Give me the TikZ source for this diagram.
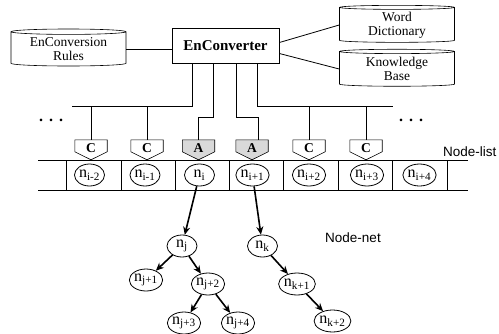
\documentclass[tikz,border=0pt]{standalone}
\usepackage{fontspec}
\setmainfont{Liberation Serif}
\setsansfont{Liberation Sans}
\usepackage{tikz}
\usetikzlibrary{calc,shapes.geometric,arrows.meta,backgrounds}
\definecolor{shade}{HTML}{D9D9D9}
\tikzset{
  conv/.style={draw, line width=0.8pt, minimum width=107pt, minimum height=35pt, inner sep=0pt, font=\fontsize{15}{15}\selectfont\bfseries},
  dbase/.style={draw, line width=0.6pt, cylinder, shape border rotate=90, aspect=0.07, minimum width=115pt, minimum height=37pt, align=center, inner sep=0pt, font=\fontsize{13.5}{14}\selectfont},
  tag/.style={minimum width=32pt, minimum height=16pt, inner sep=0pt, font=\fontsize{13.5}{14}\selectfont\bfseries},
  tagline/.style={draw, line width=0.6pt, line join=miter},
  nd/.style={draw, ellipse, line width=0.8pt, minimum width=30pt, minimum height=22pt, inner sep=0pt, font=\fontsize{16}{16}\selectfont},
  lbl/.style={font=\sffamily\fontsize{13.5}{14}\selectfont},
  dots/.style={font=\fontsize{16}{16}\selectfont\bfseries, inner sep=0pt},
  wire/.style={line width=0.8pt},
  arr/.style={line width=1.6pt, -{Stealth[length=8pt,width=7pt]}}
}
\newcommand{\nn}[1]{n\textsubscript{#1}}

\begin{document}
\begin{tikzpicture}[x=1pt,y=-1pt]
\useasboundingbox (0,0) rectangle (499,333);

% converter and its data
\node[conv] (enc) at (225.5,45.5) {EnConverter};
\node[dbase] (rules) at (68.5,49) {EnConversion\\Rules};
\node[dbase] (dict) at (397,25) {Word\\Dictionary};
\node[dbase] (kb) at (397,69) {Knowledge\\Base};

\draw[wire] (rules.east) -- (enc.west |- rules.east);
\draw[wire] ($(enc.east)+(0,-3)$) -- (dict.west);
\draw[wire] ($(enc.east)+(0,8)$) -- (kb.west);

% heads over the list
\node[tag] (c1) at (91,148) {C};
\node[tag] (c2) at (147,148) {C};
\node[tag] (a1) at (198.5,148) {A};
\node[tag] (a2) at (252,148) {A};
\node[tag] (c3) at (309,148) {C};
\node[tag] (c4) at (366,148) {C};

\begin{scope}[on background layer]
\draw[tagline] (c1.north west) -- (c1.north east) -- ++(0,12) -- ($(c1.north)+(0,20)$) -- ($(c1.north west)+(0,12)$) -- cycle;
\draw[tagline] (c2.north west) -- (c2.north east) -- ++(0,12) -- ($(c2.north)+(0,20)$) -- ($(c2.north west)+(0,12)$) -- cycle;
\draw[tagline, fill=shade] (a1.north west) -- (a1.north east) -- ++(0,12) -- ($(a1.north)+(0,20)$) -- ($(a1.north west)+(0,12)$) -- cycle;
\draw[tagline, fill=shade] (a2.north west) -- (a2.north east) -- ++(0,12) -- ($(a2.north)+(0,20)$) -- ($(a2.north west)+(0,12)$) -- cycle;
\draw[tagline] (c3.north west) -- (c3.north east) -- ++(0,12) -- ($(c3.north)+(0,20)$) -- ($(c3.north west)+(0,12)$) -- cycle;
\draw[tagline] (c4.north west) -- (c4.north east) -- ++(0,12) -- ($(c4.north)+(0,20)$) -- ($(c4.north west)+(0,12)$) -- cycle;
\end{scope}

\coordinate (busL) at (72,106);
\coordinate (busR) at (393,106);
\draw[wire] ($(enc.south west)+(21,0)$) |- (busL);
\draw[wire] (c1.north) -- (c1.north |- busL);
\draw[wire] (c2.north) -- (c2.north |- busL);
\draw[wire] ($(enc.south west)+(42,0)$) -- ++(0,54) -| (a1.north);
\draw[wire] ($(enc.south west)+(65,0)$) -- ++(0,54) -| ($(a2.north)+(6,0)$);
\draw[wire] ($(enc.south west)+(86,0)$) |- (busR);
\draw[wire] (c3.north) -- (c3.north |- busR);
\draw[wire] (c4.north) -- (c4.north |- busR);

\node[dots] (dotsL) at (51,120) {.\hspace{6pt}.\hspace{6pt}.};
\node[dots] (dotsR) at (411,120) {.\hspace{6pt}.\hspace{6pt}.};

% node-list
\draw[wire] (38,160) -- (468,160) (38,190) -- (468,190);
\draw[wire] (66,160) -- (66,190) (121,160) -- (121,190) (175,160) -- (175,190)
  (229,160) -- (229,190) (283,160) -- (283,190) (338,160) -- (338,190)
  (392,160) -- (392,190) (447,160) -- (447,190);

\node[nd] (nim2) at (89.5,175) {\nn{i-2}};
\node[nd] (nim1) at (145,175) {\nn{i-1}};
\node[nd] (ni) at (199.5,175) {\nn{i}};
\node[nd] (nip1) at (252.5,175) {\nn{i+1}};
\node[nd] (nip2) at (309,175) {\nn{i+2}};
\node[nd] (nip3) at (367,175) {\nn{i+3}};
\node[nd] (nip4) at (419.5,175) {\nn{i+4}};

\node[lbl, anchor=east] (listlbl) at (500,152) {Node-list};

% node-net
\node[nd] (nj) at (182,246) {\nn{j}};
\node[nd] (nk) at (262.5,246) {\nn{k}};
\node[nd] (nj1) at (146,280) {\nn{j+1}};
\node[nd] (nj2) at (208,284) {\nn{j+2}};
\node[nd] (nj3) at (184,323) {\nn{j+3}};
\node[nd] (nj4) at (238,323) {\nn{j+4}};
\node[nd] (nk1) at (297,284) {\nn{k+1}};
\node[nd] (nk2) at (332.5,321) {\nn{k+2}};

\node[lbl] (netlbl) at (353,238) {Node-net};

\draw[arr] (ni) -- (nj);
\draw[arr] (nip1) -- (nk);
\draw[arr] (nj) -- (nj1);
\draw[arr] (nj) -- (nj2);
\draw[arr] (nj2) -- (nj3);
\draw[arr] (nj2) -- (nj4);
\draw[arr] (nk) -- (nk1);
\draw[arr] (nk1) -- (nk2);
\end{tikzpicture}
\end{document}
